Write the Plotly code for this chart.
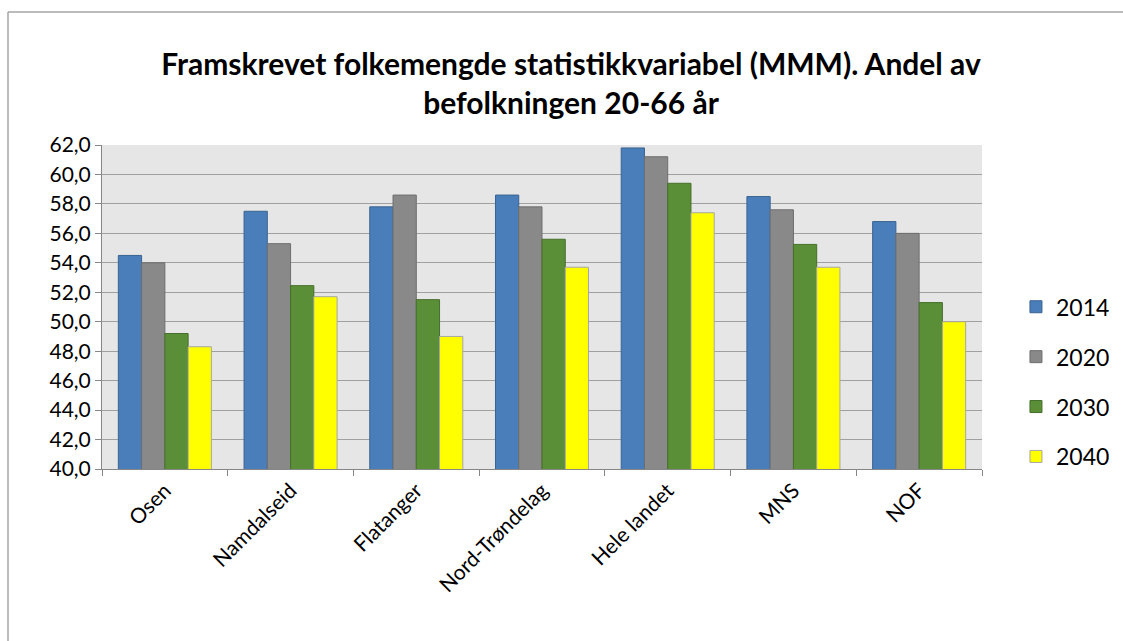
import plotly.graph_objects as go

categories = ["Osen", "Namdalseid", "Flatanger", "Nord-Trøndelag", "Hele landet", "MNS", "NOF"]
series_names = ["2014", "2020", "2030", "2040"]
v2014 = [54.5, 57.5, 57.8, 58.6, 61.8, 58.5, 56.8]
v2020 = [54.0, 55.3, 58.6, 57.8, 61.2, 57.6, 56.0]
v2030 = [49.2, 52.45, 51.5, 55.6, 59.4, 55.25, 51.3]
v2040 = [48.3, 51.7, 49.0, 53.7, 57.4, 53.7, 50.0]
values = [v2014, v2020, v2030, v2040]
fills = ["#4A7EBB", "#898989", "#5A8F37", "#FFFF00"]
borders = ["#3A6390", "#6E6E6E", "#466F2B", "#A6A6A6"]

W, H = 1123, 641
ml, mr, mt, mb = 102, 141, 145, 172
pw, ph = W - ml - mr, H - mt - mb

fig = go.Figure()
for i, name in enumerate(series_names):
    fig.add_trace(go.Bar(
        x=categories, y=values[i], name=name, legendgroup=name,
        marker=dict(color=fills[i], line=dict(color=borders[i], width=1)),
    ))

def px_x(p):
    return (p - ml) / pw

def px_y(p):
    return (H - mb - p) / ph

frame = dict(color="#A6A6A6", width=1.5)
fig.add_shape(type="line", xref="paper", yref="paper",
              x0=px_x(8), x1=px_x(1160), y0=px_y(12), y1=px_y(12), line=frame, layer="below")
fig.add_shape(type="line", xref="paper", yref="paper",
              x0=px_x(8), x1=px_x(8), y0=px_y(12), y1=px_y(680), line=frame, layer="below")

fig.update_layout(
    width=W, height=H, autosize=False,
    margin=dict(l=ml, r=mr, t=mt, b=mb, autoexpand=False),
    paper_bgcolor="white", plot_bgcolor="#E6E6E6",
    separators=", ",
    font=dict(family="Lato, Open Sans, sans-serif", color="black", size=21),
    title=dict(text="<b>Framskrevet folkemengde statistikkvariabel (MMM). Andel av<br>befolkningen 20-66 år</b>",
               x=571 / W, xref="container", xanchor="center",
               y=1 - 75 / H, yref="container", yanchor="middle",
               font=dict(size=30, family="Lato, Open Sans, sans-serif")),
    barmode="group", bargap=0.26, bargroupgap=0,
    showlegend=True,
    legend=dict(x=1.0386, y=0.567, xanchor="left", yanchor="top",
                font=dict(size=23), tracegroupgap=17, bgcolor="rgba(0,0,0,0)",
                itemwidth=30),
    xaxis=dict(type="category", tickangle=-45, tickson="boundaries", ticks="outside",
               ticklen=6, tickcolor="#868686", showline=True, linecolor="#868686",
               linewidth=1, showgrid=False, tickfont=dict(size=21)),
    yaxis=dict(range=[40, 62], dtick=2, tickformat=".1f", ticks="outside", ticklen=6,
               tickcolor="#868686", showline=True, linecolor="#868686", linewidth=1,
               showgrid=True, gridcolor="#A0A0A0", gridwidth=1, zeroline=False,
               tickfont=dict(size=21)),
)

fig.write_html(
    "out.html",
    config={"responsive": False, "displayModeBar": False},
    post_script="document.body.style.margin='0';document.body.style.overflow='hidden';",
)
